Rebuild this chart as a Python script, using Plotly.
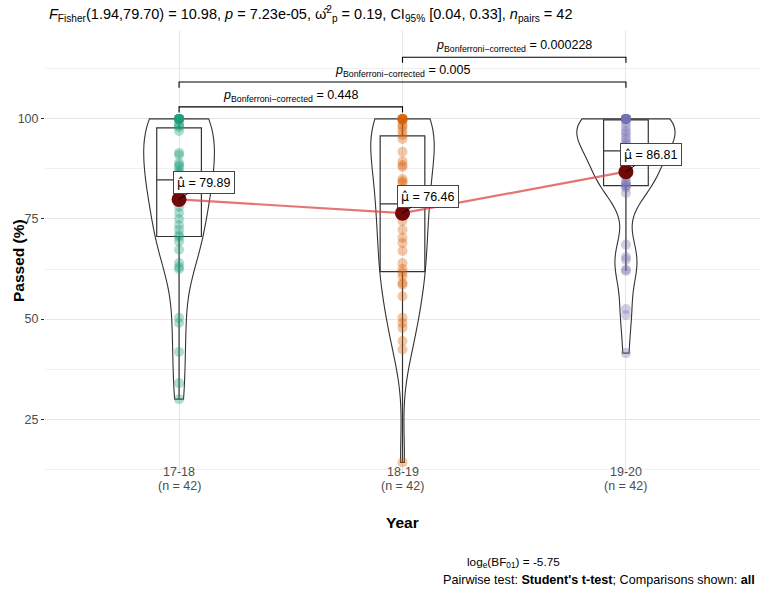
import numpy as np
import plotly.graph_objects as go

# ---------------- data ----------------
years = ["17-18", "18-19", "19-20"]
n_text = ["(n = 42)", "(n = 42)", "(n = 42)"]

passed_1718 = [100, 100, 100, 100, 100, 100, 100, 100, 98.5, 98.5, 98, 97,
               91.5, 89, 91, 88, 86.5, 88.5, 87, 86, 85, 84.5, 84,
               82, 80, 78, 76.5, 75, 73.5, 72.3, 71, 70.5,
               69.4, 67.3, 64, 63, 50.3, 49, 41.8, 34, 30, 62.5]
passed_1819 = [100, 100, 100, 100, 100, 100, 99.5, 98.5, 98, 97, 96,
               95, 91.8, 89.4, 88, 88.5, 85, 84.4, 84, 82.5, 79.5,
               78, 76.5, 76, 74.5, 72.3, 70.3, 69, 67, 64, 62.5,
               61.6, 60.7, 59, 58.6, 55.7, 50.3, 47.8, 44.5, 42.4, 49, 14.2]
passed_1920 = [41.5, 51, 52.5, 62, 62.4, 64.8, 65.5, 68.6, 81.5, 82.8,
               83.3, 83.5, 84, 84.4, 85.5, 86.5, 87.5, 89, 90.5, 91.5,
               92, 92, 93, 93.5, 94, 94.8, 95.5, 96.4, 97, 98, 99,
               100, 100, 100, 100, 100, 100, 100, 100, 100, 100, 100]

group_means = [79.89, 76.46, 86.81]
colors = ["#1B9E77", "#D95F02", "#7570B3"]

pair_from = [1, 1, 2]
pair_to = [2, 3, 3]
pair_p = ["0.448", "0.005", "0.000228"]
bracket_y = [103.0, 109.2, 115.4]

subtitle = ("<i>F</i><sub>Fisher</sub>(1.94,79.70) = 10.98, <i>p</i> = 7.23e-05, "
            "ω\u0302<sup>2</sup><sub>p</sub> = 0.19, CI<sub>95%</sub> [0.04, 0.33], "
            "<i>n</i><sub>pairs</sub> = 42")
caption1 = "log<sub>e</sub>(BF<sub>01</sub>) = -5.75"
caption2 = "Pairwise test: <b>Student's t-test</b>; Comparisons shown: <b>all</b>"
x_title = "Year"
y_title = "Passed (%)"

groups = [passed_1718, passed_1819, passed_1920]

FONT = "Liberation Sans, Arial, sans-serif"
fig = go.Figure()


def nrd0(v):
    v = np.asarray(v, float)
    sd = np.std(v, ddof=1)
    q75, q25 = np.percentile(v, [75, 25])
    lo = min(sd, (q75 - q25) / 1.34)
    return 0.9 * lo * len(v) ** -0.2


def kde_max(v, bw):
    v = np.asarray(v, float)
    grid = np.linspace(v.min(), v.max(), 512)
    d = np.exp(-0.5 * ((grid[:, None] - v[None, :]) / bw) ** 2).sum(1)
    return (d / (len(v) * bw * np.sqrt(2 * np.pi))).max()


# points
for i, (vals, col) in enumerate(zip(groups, colors)):
    fig.add_trace(go.Scatter(
        x=[i + 1] * len(vals), y=vals, mode="markers",
        marker=dict(size=10, color=col, opacity=0.35, line=dict(width=0)),
        hoverinfo="y"))

# boxes (ggplot-style quantiles, 1.5 IQR whiskers)
for i, vals in enumerate(groups):
    v = np.sort(np.asarray(vals, float))
    q1, med, q3 = np.percentile(v, [25, 50, 75])
    iqr = q3 - q1
    lf = v[v >= q1 - 1.5 * iqr].min()
    uf = v[v <= q3 + 1.5 * iqr].max()
    fig.add_trace(go.Box(
        x=[i + 1], q1=[q1], median=[med], q3=[q3],
        lowerfence=[lf], upperfence=[uf], width=0.2, whiskerwidth=0,
        fillcolor="rgba(0,0,0,0)", line=dict(color="#333333", width=1.2),
        boxpoints=False, hoverinfo="skip"))

# violins: equal-area scaling (as ggplot's scale = "area")
bws = [nrd0(v) for v in groups]
peaks = [kde_max(v, bw) for v, bw in zip(groups, bws)]
top = max(peaks)
for i, vals in enumerate(groups):
    fig.add_trace(go.Violin(
        x=[i + 1] * len(vals), y=vals, width=0.44 * (peaks[i] / top) ** 0.6,
        spanmode="hard", bandwidth=bws[i], points=False, scalemode="width",
        fillcolor="rgba(255,255,255,0)", line=dict(color="#333333", width=1.1),
        box=dict(visible=False), meanline=dict(visible=False), hoverinfo="skip"))

# mean path and points
fig.add_trace(go.Scatter(
    x=[1, 2, 3], y=group_means, mode="lines",
    line=dict(color="rgba(222,70,70,0.75)", width=2.2), hoverinfo="skip"))
fig.add_trace(go.Scatter(
    x=[1, 2, 3], y=group_means, mode="markers",
    marker=dict(size=15, color="#700909"), hoverinfo="y"))

for i, m in enumerate(group_means):
    fig.add_annotation(
        x=i + 1, y=m, xref="x", yref="y",
        text="<span style=\"font-family:'DejaVu Sans'\">μ\u0302</span> = %.2f" % m,
        showarrow=True, arrowhead=0, arrowwidth=1,
        arrowcolor="black", ax=25, ay=-17, axref="pixel", ayref="pixel",
        bgcolor="white", bordercolor="#444444", borderwidth=1, borderpad=3,
        font=dict(family=FONT, size=12.5, color="black"))

# pairwise comparison brackets
for a, b, p, by in zip(pair_from, pair_to, pair_p, bracket_y):
    fig.add_trace(go.Scatter(
        x=[a, a, b, b], y=[by - 1.4, by, by, by - 1.4], mode="lines",
        line=dict(color="black", width=1.1), hoverinfo="skip"))
    fig.add_annotation(
        x=(a + b) / 2, y=by, xref="x", yref="y", yanchor="bottom",
        text="<i>p</i><sub>Bonferroni\u2212corrected</sub> = " + p,
        showarrow=False, yshift=1, font=dict(family=FONT, size=12.5, color="black"))

L, R, T, B = 45, 760, 30, 472
W, H = 761, 589


def px_x(px):
    return (px - L) / (R - L)


def px_y(py):
    return (B - py) / (B - T)


fig.add_annotation(
    x=px_x(47), y=px_y(14), xref="paper", yref="paper",
    xanchor="left", yanchor="middle", text=subtitle, showarrow=False,
    font=dict(family=FONT, size=14.5, color="black"))
fig.add_annotation(
    x=px_x(465), y=px_y(562), xref="paper", yref="paper",
    xanchor="left", yanchor="middle", text=caption1, showarrow=False,
    font=dict(family=FONT, size=11.8, color="black"))
fig.add_annotation(
    x=px_x(757), y=px_y(580), xref="paper", yref="paper",
    xanchor="right", yanchor="middle", text=caption2, showarrow=False,
    font=dict(family=FONT, size=12.6, color="black"))

# x tick labels and axis titles
for i, (yr, nt) in enumerate(zip(years, n_text)):
    fig.add_annotation(x=i + 1, y=px_y(472), xref="x", yref="paper",
                       xanchor="center", yanchor="middle", text=yr, showarrow=False,
                       font=dict(family=FONT, size=12.5, color="#4d4d4d"))
    fig.add_annotation(x=i + 1, y=px_y(486), xref="x", yref="paper",
                       xanchor="center", yanchor="middle", text=nt, showarrow=False,
                       font=dict(family=FONT, size=12.5, color="#4d4d4d"))
fig.add_annotation(x=0.5, y=px_y(522), xref="paper", yref="paper",
                   xanchor="center", yanchor="middle", text="<b>%s</b>" % x_title,
                   showarrow=False, font=dict(family=FONT, size=15.5, color="black"))
fig.add_annotation(x=px_x(18), y=px_y(261), xref="paper", yref="paper",
                   xanchor="center", yanchor="middle", text="<b>%s</b>" % y_title,
                   textangle=-90, showarrow=False,
                   font=dict(family=FONT, size=15.5, color="black"))

grid_major = "#e6e6e6"
grid_minor = "#efefef"

fig.update_layout(
    width=W, height=H, margin=dict(l=L, r=W - R, t=T, b=H - B),
    plot_bgcolor="white", paper_bgcolor="white", showlegend=False,
    font=dict(family=FONT, color="#4d4d4d"),
    xaxis=dict(range=[0.4, 3.6], tickvals=[1, 2, 3], showticklabels=False,
               showgrid=True, gridcolor=grid_major, zeroline=False, ticks=""),
    yaxis=dict(range=[11.8, 122.2], tickvals=[25, 50, 75, 100],
               showgrid=True, gridcolor=grid_major, zeroline=False,
               ticks="outside", ticklen=3, tickcolor="#333333",
               tickfont=dict(size=12.5, color="#4d4d4d"),
               minor=dict(tickvals=[12.5, 37.5, 62.5, 87.5, 112.5], showgrid=True,
                          gridcolor=grid_minor, ticks="")),
)

fig.write_html("out.html", config={"displayModeBar": False},
               post_script="document.body.style.margin='0';")
